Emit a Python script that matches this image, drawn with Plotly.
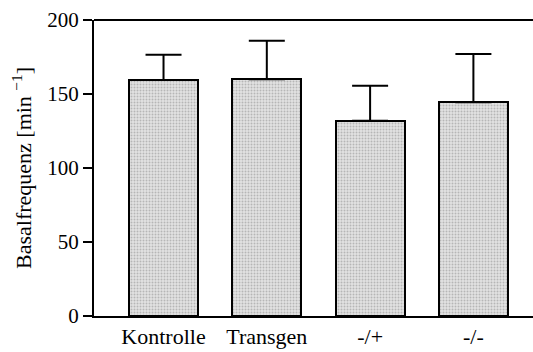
import plotly.graph_objects as go

categories = ["Kontrolle", "Transgen", "-/+", "-/-"]
means = [159.5, 160.0, 132.0, 144.5]
errors_up = [17.0, 26.0, 23.5, 32.5]
y_ticks = [0, 50, 100, 150, 200]

font_family = "Liberation Serif, Times New Roman, serif"

fig = go.Figure()
fig.add_trace(go.Bar(
    x=list(range(len(categories))),
    y=means,
    width=0.67,
    marker=dict(
        color="#d2d2d2",
        line=dict(color="black", width=2),
        pattern=dict(shape=".", size=3, solidity=0.35, fgcolor="#8a8a8a", bgcolor="#e2e2e2"),
    ),
    error_y=dict(
        type="data", symmetric=False, array=errors_up, arrayminus=[0] * len(means),
        color="black", thickness=2, width=18,
    ),
    showlegend=False,
))

fig.update_layout(
    width=533, height=352,
    margin=dict(l=94, r=0, t=20, b=36),
    paper_bgcolor="white", plot_bgcolor="white",
    font=dict(family=font_family, size=22, color="black"),
    bargap=0,
)
fig.update_xaxes(
    range=[-0.673, 3.577],
    tickmode="array", tickvals=list(range(len(categories))), ticktext=categories,
    showline=True, linecolor="black", linewidth=2, mirror=False,
    ticks="", showgrid=False, zeroline=False,
    tickfont=dict(family=font_family, size=22),
)
fig.update_yaxes(
    range=[0, 200],
    tickmode="array", tickvals=y_ticks, ticktext=[str(v) for v in y_ticks],
    showline=True, linecolor="black", linewidth=2,
    ticks="outside", ticklen=9, tickwidth=2, tickcolor="black",
    showgrid=False, zeroline=False,
    tickfont=dict(family=font_family, size=21),
)
# y-axis title placed precisely
fig.add_annotation(
    text="Basalfrequenz [min <sup>−1</sup>]",
    xref="paper", yref="paper", x=(22 - 94) / 439, y=0.5,
    xanchor="center", yanchor="middle", textangle=-90, showarrow=False,
    font=dict(family=font_family, size=22, color="black"),
)
# top border line
fig.add_shape(type="line", xref="paper", yref="paper", x0=0, x1=1, y0=1, y1=1,
              line=dict(color="black", width=2))

fig.write_html("out.html")
